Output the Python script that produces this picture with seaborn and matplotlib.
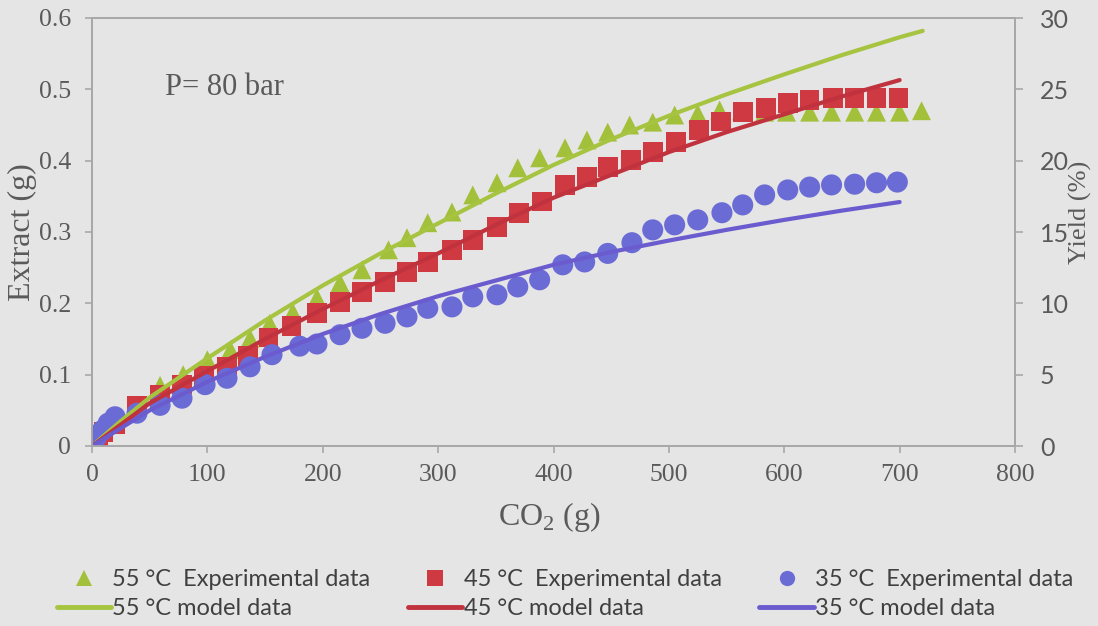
import numpy as np
import pandas as pd
import matplotlib
matplotlib.use("Agg")
import matplotlib.pyplot as plt
import seaborn as sns
from matplotlib.lines import Line2D

# ---------------- data ----------------
x_55 = [0, 20, 39, 59, 79, 100, 120, 137, 154, 174, 195, 215, 234, 257, 273, 291, 312, 330, 351, 369,
        388, 410, 429, 447, 466, 486, 505, 525, 544, 563, 583, 602, 622, 641, 661, 680, 700, 719]
y_55 = [0, 0.03, 0.055, 0.085, 0.10, 0.121, 0.135, 0.151, 0.172, 0.188, 0.208, 0.229, 0.247, 0.275, 0.292,
        0.313, 0.328, 0.352, 0.369, 0.39, 0.404, 0.418, 0.429, 0.44, 0.45, 0.454, 0.464, 0.466, 0.471, 0.47,
        0.468, 0.468, 0.468, 0.468, 0.468, 0.468, 0.468, 0.47]

x_45 = [0, 5, 10, 20, 39, 59, 78, 97, 117, 135, 153, 173, 195, 215, 234, 254, 273, 291, 312, 330,
        351, 370, 390, 410, 429, 447, 467, 486, 506, 526, 545, 564, 584, 603, 622, 642, 661, 680, 699]
y_45 = [0, 0.01, 0.02, 0.03, 0.057, 0.072, 0.086, 0.098, 0.111, 0.126, 0.152, 0.168, 0.186, 0.202, 0.216,
        0.23, 0.244, 0.258, 0.275, 0.289, 0.307, 0.327, 0.343, 0.366, 0.377, 0.391, 0.401, 0.412, 0.426,
        0.443, 0.455, 0.468, 0.474, 0.481, 0.485, 0.488, 0.488, 0.488, 0.488]

x_35 = [0, 4, 9, 14, 20, 39, 59, 78, 98, 117, 137, 156, 180, 195, 215, 234, 254, 273, 291, 312,
        330, 351, 369, 388, 408, 427, 447, 468, 486, 505, 525, 546, 564, 583, 603, 622, 641, 661, 680, 698]
y_35 = [0, 0.013, 0.022, 0.032, 0.041, 0.046, 0.057, 0.067, 0.086, 0.095, 0.111, 0.128, 0.14, 0.143, 0.156,
        0.165, 0.172, 0.181, 0.193, 0.195, 0.209, 0.212, 0.223, 0.233, 0.254, 0.258, 0.27, 0.285, 0.303,
        0.31, 0.317, 0.327, 0.338, 0.352, 0.359, 0.363, 0.366, 0.367, 0.369, 0.37]

mx_55 = [0, 25, 50, 100, 150, 200, 250, 300, 350, 400, 450, 500, 550, 600, 650, 700, 720]
my_55 = [0, 0.035, 0.068, 0.123, 0.176, 0.225, 0.27, 0.312, 0.354, 0.394, 0.43, 0.463, 0.493, 0.521,
         0.548, 0.573, 0.582]

mx_45 = [0, 50, 100, 150, 200, 250, 300, 350, 400, 450, 500, 550, 600, 650, 700]
my_45 = [0, 0.06, 0.105, 0.15, 0.192, 0.232, 0.27, 0.31, 0.348, 0.38, 0.412, 0.44, 0.465, 0.49, 0.513]

mx_35 = [0, 50, 100, 150, 200, 250, 300, 350, 400, 450, 500, 550, 600, 650, 700]
my_35 = [0, 0.05, 0.09, 0.125, 0.157, 0.185, 0.21, 0.232, 0.254, 0.272, 0.288, 0.303, 0.317, 0.33, 0.342]

x_ticks = [0, 100, 200, 300, 400, 500, 600, 700, 800]
y_ticks = [0, 0.1, 0.2, 0.3, 0.4, 0.5, 0.6]
y_tick_labels = ["0", "0.1", "0.2", "0.3", "0.4", "0.5", "0.6"]
yield_ticks = [0, 5, 10, 15, 20, 25, 30]

labels_exp = ["55 °C  Experimental data", "45 °C  Experimental data", "35 °C  Experimental data"]
labels_mod = ["55 °C model data", "45 °C model data", "35 °C model data"]

# ---------------- style ----------------
BG = "#e5e5e5"
GREEN = "#a3c03b"
RED = "#cf3a42"
BLUE = "#6b6bd6"
GREEN_L = "#a6c440"
RED_L = "#c0323d"
BLUE_L = "#6a5ccf"
SPINE = "#a8a8a8"
TXT = "#5a5a5a"

sns.set_theme(style="white")
plt.rcParams["font.family"] = ["Liberation Serif", "DejaVu Serif"]
plt.rcParams["mathtext.fontset"] = "custom"
plt.rcParams["mathtext.rm"] = "Liberation Serif"

fig = plt.figure(figsize=(10.98, 6.26), dpi=100, facecolor=BG)
ax = fig.add_axes([92 / 1098, 1 - 446 / 626, (1015 - 92) / 1098, (446 - 18) / 626])
ax.set_facecolor(BG)

# markers
sns.scatterplot(x=x_55, y=y_55, ax=ax, marker="^", s=185, color=GREEN, edgecolor="none",
                linewidth=0, zorder=3, legend=False)
sns.scatterplot(x=x_45, y=y_45, ax=ax, marker="s", s=200, color=RED, edgecolor="none",
                linewidth=0, zorder=4, legend=False)
sns.scatterplot(x=x_35, y=y_35, ax=ax, marker="o", s=230, color=BLUE, edgecolor="none",
                linewidth=0, zorder=5, legend=False)

# model lines
for mx, my, c in [(mx_55, my_55, GREEN_L), (mx_45, my_45, RED_L), (mx_35, my_35, BLUE_L)]:
    sns.lineplot(x=mx, y=my, ax=ax, color=c, linewidth=3, estimator=None, sort=False,
                 zorder=6, legend=False)

ax.set_xlim(0, 800)
ax.set_ylim(0, 0.6)
ax.set_xticks(x_ticks)
ax.set_xticklabels([str(v) for v in x_ticks])
ax.set_yticks(y_ticks)
ax.set_yticklabels(y_tick_labels)

for s in ax.spines.values():
    s.set_visible(True)
    s.set_color(SPINE)
    s.set_linewidth(1.3)

ax.tick_params(axis="y", direction="out", length=5, width=1.2, color=SPINE,
               labelsize=18.5, labelcolor=TXT, pad=10, left=True)
ax.tick_params(axis="x", direction="out", length=5, width=1.2, color=SPINE,
               labelsize=18.5, labelcolor=TXT, pad=8, bottom=True)

ax.set_xlabel(r"CO$_\mathregular{2}$ (g)", fontsize=23, color=TXT)
ax.xaxis.set_label_coords(0.496, -0.125)
ax.set_ylabel("Extract (g)", fontsize=23, color=TXT)
ax.yaxis.set_label_coords(-0.06, 0.5)

ax.text(63, 0.502, "P= 80 bar", fontsize=22, color=TXT, va="center", ha="left")

# right axis
ax2 = ax.twinx()
ax2.set_ylim(0, 30)
ax2.set_yticks(yield_ticks)
ax2.set_yticklabels([str(v) for v in yield_ticks], family=["Lato", "DejaVu Sans"])
for s in ax2.spines.values():
    s.set_color(SPINE)
    s.set_linewidth(1.3)
ax2.tick_params(axis="y", direction="out", length=6, width=1.2, color=SPINE,
                labelsize=18, labelcolor=TXT, pad=12, right=True)
ax2.set_ylabel("Yield (%)", fontsize=19, color=TXT, rotation=90)
ax2.yaxis.set_label_coords(1.058, 0.547)
ax2.grid(False)
ax.grid(False)

# legend
h = [
    Line2D([], [], marker="^", linestyle="none", color=GREEN, markersize=11, markeredgewidth=0),
    Line2D([], [], color=GREEN_L, linewidth=3.5),
    Line2D([], [], marker="s", linestyle="none", color=RED, markersize=11, markeredgewidth=0),
    Line2D([], [], color=RED_L, linewidth=3.5),
    Line2D([], [], marker="o", linestyle="none", color=BLUE, markersize=11, markeredgewidth=0),
    Line2D([], [], color=BLUE_L, linewidth=3.5),
]
l = [labels_exp[0], labels_mod[0], labels_exp[1], labels_mod[1], labels_exp[2], labels_mod[2]]
fig.legend(h, l, loc="upper left", bbox_to_anchor=(45 / 1098, 1 - 557 / 626), ncol=3,
           frameon=False, prop={"family": ["Lato", "DejaVu Sans"], "size": 17},
           handlelength=2.3, handletextpad=0.05, columnspacing=1.6, labelspacing=0.36,
           borderpad=0, labelcolor="#404040")

fig.savefig("out.png", dpi=100, facecolor=BG)
